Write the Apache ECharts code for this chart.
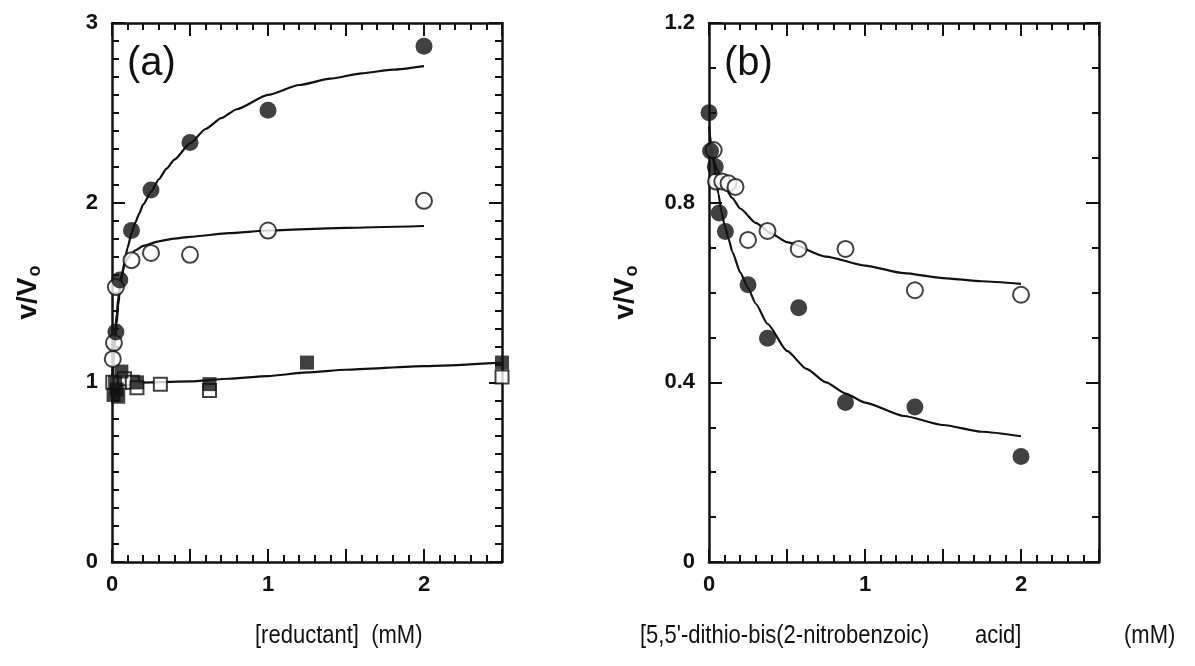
<!DOCTYPE html>
<html>
<head>
<meta charset="utf-8">
<script src="https://cdn.jsdelivr.net/npm/echarts@6/dist/echarts.min.js"></script>
<style>
  html, body { margin: 0; padding: 0; background: #fff; }
  #chart { width: 1195px; height: 666px; }
</style>
</head>
<body>
<div id="chart"></div>
<script>
// panel (a): v/Vo vs [reductant]
const aFilledCircles = [[0.025, 1.28], [0.05, 1.57], [0.125, 1.845], [0.25, 2.07], [0.5, 2.335], [1, 2.515], [2, 2.87]]
const aOpenCircles = [[0.005, 1.13], [0.0125, 1.22], [0.025, 1.53], [0.125, 1.68], [0.25, 1.72], [0.5, 1.71], [1, 1.845], [2, 2.01]]
const aFilledSquares = [[0.01, 0.93], [0.02, 1.0], [0.03, 0.96], [0.04, 0.92], [0.06, 1.06], [0.16, 1.0], [0.625, 0.99], [1.25, 1.11], [2.5, 1.11]]
const aOpenSquares = [[0.005, 1.0], [0.05, 1.0], [0.08, 1.02], [0.13, 1.0], [0.16, 0.97], [0.31, 0.99], [0.625, 0.955], [2.5, 1.03]]

// fitted curves
const aFitFilledX = [0, 0.01, 0.02, 0.03, 0.04, 0.05, 0.06, 0.08, 0.1, 0.125, 0.15, 0.175, 0.2, 0.25, 0.3, 0.35, 0.4, 0.5, 0.6, 0.7, 0.8, 1, 1.2, 1.4, 1.6, 1.8, 2]
const aFitFilledY = [1.0, 1.12, 1.23, 1.33, 1.43, 1.51, 1.57, 1.67, 1.75, 1.83, 1.89, 1.94, 1.99, 2.06, 2.13, 2.19, 2.24, 2.33, 2.41, 2.47, 2.52, 2.6, 2.655, 2.69, 2.72, 2.74, 2.76]
const aFitOpenX = [0, 0.01, 0.02, 0.03, 0.04, 0.05, 0.06, 0.08, 0.1, 0.125, 0.15, 0.2, 0.3, 0.4, 0.5, 0.75, 1, 1.5, 2]
const aFitOpenY = [1.0, 1.14, 1.27, 1.38, 1.47, 1.54, 1.59, 1.655, 1.69, 1.715, 1.735, 1.76, 1.785, 1.8, 1.81, 1.83, 1.845, 1.86, 1.87]
const aFitSquareX = [0, 0.25, 0.5, 0.75, 1, 1.25, 1.5, 2, 2.5]
const aFitSquareY = [0.99, 1.0, 1.005, 1.02, 1.035, 1.055, 1.07, 1.09, 1.11]

// panel (b): v/Vo vs [DTNB]
const bFilledCircles = [[0, 1.0], [0.01, 0.915], [0.04, 0.88], [0.065, 0.777], [0.105, 0.736], [0.25, 0.617], [0.375, 0.498], [0.575, 0.566], [0.875, 0.355], [1.32, 0.345], [2, 0.235]]
const bOpenCircles = [[0.03, 0.917], [0.045, 0.847], [0.085, 0.847], [0.125, 0.843], [0.17, 0.835], [0.25, 0.717], [0.375, 0.737], [0.575, 0.697], [0.875, 0.697], [1.32, 0.605], [2, 0.595]]

const bFitFilledX = [0, 0.02, 0.04, 0.06, 0.08, 0.1, 0.125, 0.15, 0.2, 0.25, 0.3, 0.375, 0.5, 0.625, 0.75, 0.875, 1, 1.25, 1.5, 1.75, 2]
const bFitFilledY = [0.97, 0.915, 0.865, 0.82, 0.78, 0.75, 0.72, 0.69, 0.645, 0.61, 0.575, 0.53, 0.47, 0.43, 0.4, 0.375, 0.355, 0.325, 0.305, 0.29, 0.28]
const bFitOpenX = [0, 0.025, 0.05, 0.1, 0.15, 0.2, 0.3, 0.4, 0.5, 0.75, 1, 1.25, 1.5, 1.75, 2]
const bFitOpenY = [0.93, 0.9, 0.875, 0.835, 0.81, 0.787, 0.755, 0.731, 0.712, 0.68, 0.66, 0.643, 0.632, 0.625, 0.619]

const xTicks = [0, 1, 2]

const zip = (xs, ys) => xs.map((x, i) => [x, ys[i]])
const INK = '#111'
const SANS = 'Liberation Sans, Arial, sans-serif'
const tickFont = { color: INK, fontSize: 22, fontWeight: 'bold', fontFamily: SANS }
const minor = (splitNumber) => ({ show: true, splitNumber, length: 7, lineStyle: { color: INK, width: 2 } })

const frameAxis = (extra) => ({
    type: 'value',
    axisLine: { show: true, onZero: false, lineStyle: { color: INK, width: 2.5 } },
    axisTick: { show: true, inside: true, length: 13, lineStyle: { color: INK, width: 2 } },
    splitLine: { show: false },
    minorSplitLine: { show: false },
    ...extra
})

const xAxisPair = (gridIndex) => [
    frameAxis({
        gridIndex, position: 'bottom', min: 0, max: 2.5, interval: 0.5, minorTick: minor(5),
        axisLabel: { ...tickFont, margin: 12, formatter: (v) => (xTicks.includes(v) ? String(v) : '') }
    }),
    frameAxis({
        gridIndex, position: 'top', min: 0, max: 2.5, interval: 0.5, minorTick: minor(5),
        axisLabel: { show: false }
    })
]

const yName = {
    name: '{v|v/V}{o|o}',
    nameLocation: 'middle',
    nameRotate: 90,
    nameTextStyle: {
        rich: {
            v: { fontSize: 28, fontWeight: 'bold', color: INK, fontFamily: SANS },
            o: { fontSize: 18, fontWeight: 'bold', color: INK, fontFamily: SANS, padding: [13, 0, 0, 1], verticalAlign: 'bottom' }
        }
    }
}

const yAxisPair = (gridIndex, max, interval, split, gap) => [
    frameAxis({
        gridIndex, position: 'left', min: 0, max, interval, minorTick: minor(split),
        axisLabel: { ...tickFont, margin: 14, formatter: (v) => String(Math.round(v * 10) / 10) },
        ...yName,
        nameGap: gap
    }),
    frameAxis({
        gridIndex, position: 'right', min: 0, max, interval, minorTick: minor(split),
        axisLabel: { show: false }
    })
]

const filled = (size) => ({ symbol: 'circle', symbolSize: size, itemStyle: { color: INK } })
const hollow = (size) => ({ symbol: 'circle', symbolSize: size, itemStyle: { color: '#fff', borderColor: INK, borderWidth: 2 } })
const square = (size, solid) => ({
    symbol: 'rect', symbolSize: size,
    itemStyle: solid ? { color: INK } : { color: '#fff', borderColor: INK, borderWidth: 2 }
})

const scatter = (xi, yi, data, look, z) => ({ type: 'scatter', xAxisIndex: xi, yAxisIndex: yi, data, z, ...look })
const fit = (xi, yi, data) => ({
    type: 'line', xAxisIndex: xi, yAxisIndex: yi, data,
    showSymbol: false, smooth: 0.2, smoothMonotone: 'x',
    lineStyle: { color: INK, width: 2.2 }, z: 2
})

// narrow-looking axis titles (no condensed face installed, so squeeze a bit)
const titleText = (text, x) => ({
    type: 'text', x, y: 636, scaleX: 0.88,
    style: { text, fontSize: 25, fill: INK, verticalAlign: 'middle', fontFamily: SANS }
})

const chart = echarts.init(document.getElementById('chart'))
chart.setOption({
    animation: false,
    backgroundColor: '#fff',
    grid: [
        { left: 112, top: 23, width: 390, height: 539 },
        { left: 709, top: 23, width: 390, height: 539 }
    ],
    xAxis: [...xAxisPair(0), ...xAxisPair(1)],
    yAxis: [...yAxisPair(0, 3, 1, 10, 68), ...yAxisPair(1, 1.2, 0.4, 4, 68)],
    series: [
        fit(0, 0, zip(aFitFilledX, aFitFilledY)),
        fit(0, 0, zip(aFitOpenX, aFitOpenY)),
        fit(0, 0, zip(aFitSquareX, aFitSquareY)),
        scatter(0, 0, aOpenSquares, square(13, false), 3),
        scatter(0, 0, aFilledSquares, square(14, true), 4),
        scatter(0, 0, aOpenCircles, hollow(16), 5),
        scatter(0, 0, aFilledCircles, filled(17), 6),
        fit(2, 2, zip(bFitFilledX, bFitFilledY)),
        fit(2, 2, zip(bFitOpenX, bFitOpenY)),
        scatter(2, 2, bOpenCircles, hollow(16), 5),
        scatter(2, 2, bFilledCircles, filled(17), 6)
    ],
    graphic: [
        { type: 'text', left: 127, top: 44, style: { text: '(a)', fontSize: 40, fill: INK, fontFamily: SANS } },
        { type: 'text', left: 724, top: 44, style: { text: '(b)', fontSize: 40, fill: INK, fontFamily: SANS } },
        titleText('[reductant]  (mM)', 255),
        titleText("[5,5'-dithio-bis(2-nitrobenzoic)", 640),
        titleText('acid]', 975),
        titleText('(mM)', 1124)
    ]
})
</script>
</body>
</html>
